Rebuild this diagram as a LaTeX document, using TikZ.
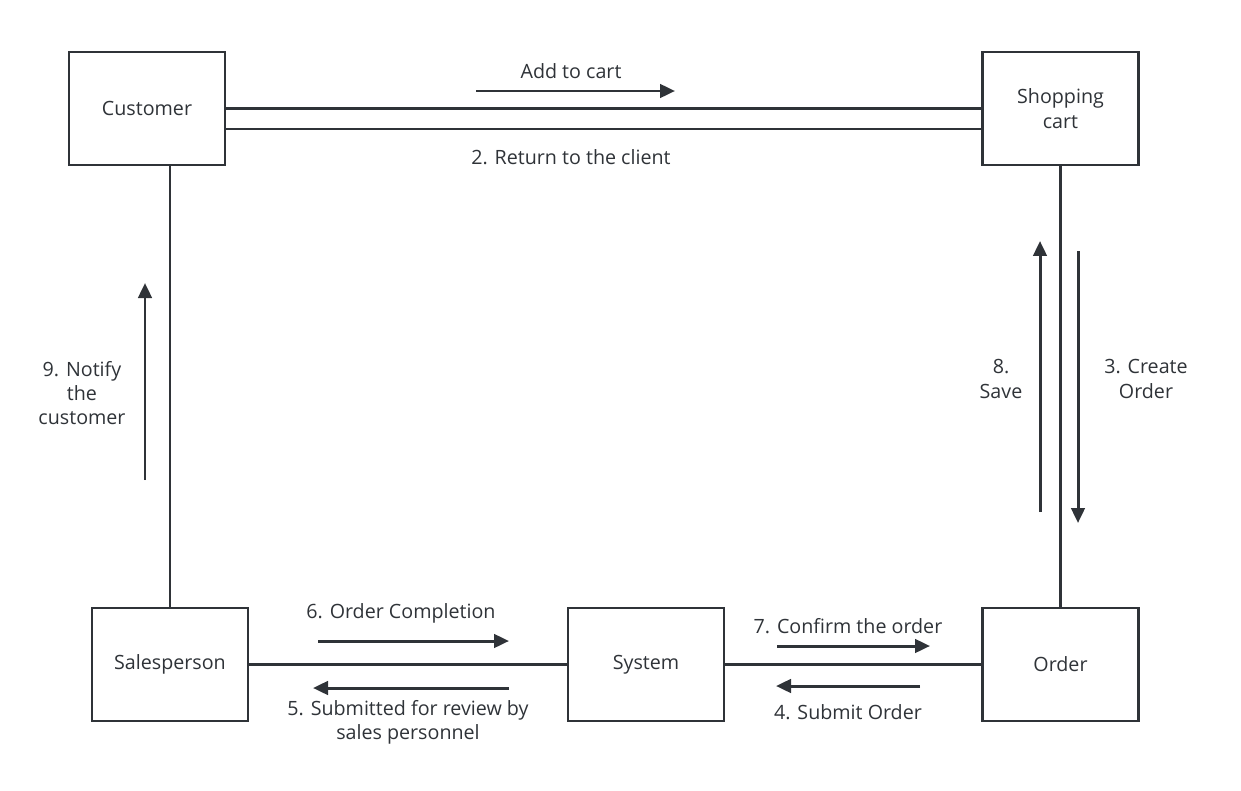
\documentclass[tikz,border=0pt]{standalone}
\usepackage{fontspec}
\setmainfont{Open Sans}
\usepackage{xcolor}
\usepackage{tikz}
\usetikzlibrary{arrows.meta,calc}

\definecolor{ink}{HTML}{2F3338}

\begin{document}
\begin{tikzpicture}[
    x=0.02cm, y=-0.02cm,
    entity/.style={draw=ink, line width=1.5pt, fill=white, minimum width=3.12cm,
                   minimum height=2.26cm, inner sep=0pt, align=center,
                   font=\fontsize{11.2}{13.8}\selectfont, text=ink},
    link/.style={draw=ink, line width=1.4pt},
    msg/.style={-{Triangle[length=3mm, width=2.7mm]}, draw=ink, fill=ink, line width=1.7pt},
    msglabel/.style={align=center, font=\fontsize{11.2}{13.8}\selectfont, text=ink, inner sep=0pt}
]

\useasboundingbox (0,0) rectangle (1241,791);

% -------------------------------------------------
% Objects
% -------------------------------------------------

\node[entity] (customer) at (147,108.5) {Customer};
\node[entity] (cart)     at (1060.5,108.5) {Shopping\\cart};
\node[entity] (sales)    at (170,664.5) {Salesperson};
\node[entity] (system)   at (646,664.5) {System};
\node[entity] (order)    at (1060.5,664.5) {Order};

% -------------------------------------------------
% Links
% -------------------------------------------------

\draw[link] (customer.east) -- (cart.west);
\draw[link] (customer.east |- 0,129) -- (cart.west |- 0,129);
\draw[link] (customer.south -| sales.north) -- (sales.north);
\draw[link] (cart.south) -- (order.north);
\draw[link] (sales.east) -- (system.west);
\draw[link] (system.east) -- (order.west);

% -------------------------------------------------
% Messages
% -------------------------------------------------

\coordinate (m1a) at (476,91);   \coordinate (m1b) at (675,91);
\coordinate (m3a) at (1078,251); \coordinate (m3b) at (1078,523);
\coordinate (m4a) at (920,686);  \coordinate (m4b) at (776,686);
\coordinate (m5a) at (509,688);  \coordinate (m5b) at (313,688);
\coordinate (m6a) at (318,641);  \coordinate (m6b) at (509,641);
\coordinate (m7a) at (777,646);  \coordinate (m7b) at (930,646);
\coordinate (m8a) at (1040,512); \coordinate (m8b) at (1040,241);
\coordinate (m9a) at (145,480);  \coordinate (m9b) at (145,283);

\draw[msg] (m1a) -- (m1b);
\draw[msg] (m3a) -- (m3b);
\draw[msg] (m4a) -- (m4b);
\draw[msg] (m5a) -- (m5b);
\draw[msg] (m6a) -- (m6b);
\draw[msg] (m7a) -- (m7b);
\draw[msg] (m8a) -- (m8b);
\draw[msg] (m9a) -- (m9b);

% -------------------------------------------------
% Labels
% -------------------------------------------------

\node[msglabel] (l1) at (571,71)   {Add to cart};
\node[msglabel] (l2) at (571,157)  {2. Return to the client};
\node[msglabel] (l3) at (1146,379) {3. Create\\Order};
\node[msglabel] (l4) at (848,712)  {4. Submit Order};
\node[msglabel] (l5) at (408,722)  {5. Submitted for review by\\sales personnel};
\node[msglabel] (l6) at (401,613)  {6. Order Completion};
\node[msglabel] (l7) at (848,626)  {7. Confirm the order};
\node[msglabel] (l8) at (1001,379) {8.\\Save};
\node[msglabel] (l9) at (82,393)   {9. Notify\\the\\customer};

\end{tikzpicture}
\end{document}
